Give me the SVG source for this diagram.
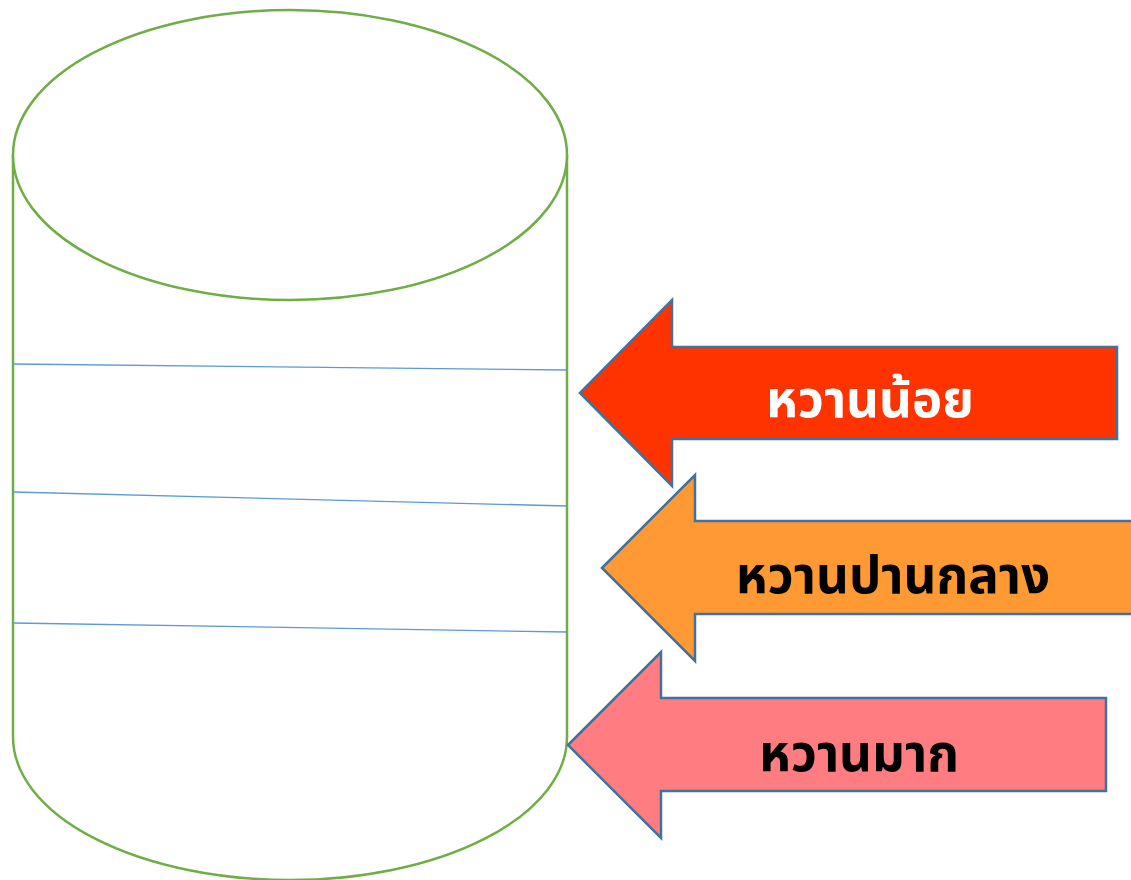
<svg xmlns="http://www.w3.org/2000/svg" width="1131" height="880" viewBox="0 0 1131 880">
<style>
.cyl{fill:#fff;stroke:#70AD47;stroke-width:2.5}
.lvl{stroke:#5B9BD5;stroke-width:1.3;fill:none}
.arr{stroke:#41719C;stroke-width:2.5}
.lbl{font-family:"Noto Sans Thai","Noto Sans Thai UI","DejaVu Sans","Noto Sans",sans-serif;font-size:51px;font-weight:bold;text-anchor:middle}
</style>
<rect width="1131" height="880" fill="#fff"/>
<g id="cylinder">
<path class="cyl" d="M13,155 L13,737 A277,143 0 0 0 567,737 L567,155"/>
<ellipse class="cyl" cx="290" cy="155" rx="277" ry="145"/>
</g>
<g id="levels">
<line class="lvl" x1="13" y1="364" x2="567" y2="370"/>
<line class="lvl" x1="13" y1="492" x2="567" y2="506"/>
<line class="lvl" x1="13" y1="623" x2="567" y2="632"/>
</g>
<g id="arrow-low">
<polygon class="arr" fill="#FF3300" points="580,393 672,300 672,347 1117,347 1117,439 672,439 672,486"/>
<text class="lbl" x="870" y="417" fill="#fff">หวานน้อย</text>
</g>
<g id="arrow-mid">
<polygon class="arr" fill="#FF9933" points="602,568 695,475 695,521 1140,521 1140,614 695,614 695,661"/>
<text class="lbl" x="893" y="593" fill="#000">หวานปานกลาง</text>
</g>
<g id="arrow-high">
<polygon class="arr" fill="#FF7C80" points="568,745 661,652 661,698 1106,698 1106,791 661,791 661,838"/>
<text class="lbl" x="859" y="771" fill="#000">หวานมาก</text>
</g>
</svg>
